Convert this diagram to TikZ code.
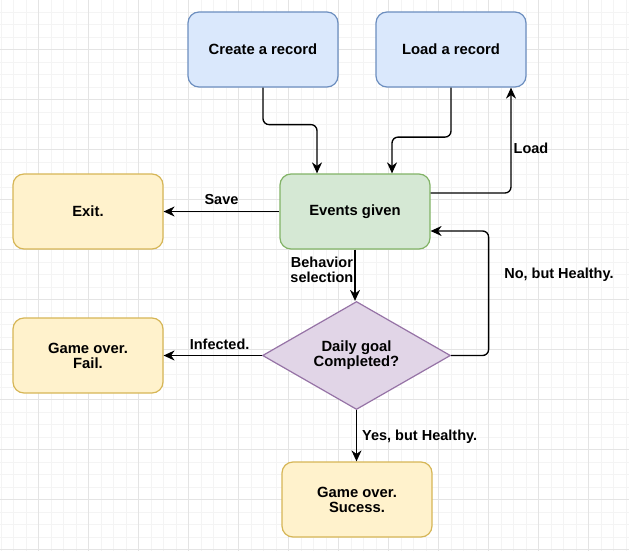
\documentclass[tikz,border=0pt]{standalone}
\usepackage{fontspec}
\setmainfont{Liberation Sans}
\usepackage{xcolor}
\usepackage{tikz}
\usetikzlibrary{calc,shapes.geometric,arrows.meta}
\definecolor{gridminor}{HTML}{F4F4F4}
\definecolor{gridmajor}{HTML}{E4E4E4}
\definecolor{bluefill}{HTML}{DAE8FC}
\definecolor{bluedraw}{HTML}{6C8EBF}
\definecolor{greenfill}{HTML}{D5E8D4}
\definecolor{greendraw}{HTML}{82B366}
\definecolor{yellowfill}{HTML}{FFF2CC}
\definecolor{yellowdraw}{HTML}{D6B656}
\definecolor{purplefill}{HTML}{E1D5E7}
\definecolor{purpledraw}{HTML}{9673A6}
\tikzset{
  box/.style={rectangle, rounded corners=11pt, line width=1.2pt,
    minimum width=150pt, minimum height=75pt, inner sep=0pt, align=center},
  startbox/.style={box, fill=bluefill, draw=bluedraw},
  eventbox/.style={box, fill=greenfill, draw=greendraw},
  endbox/.style={box, fill=yellowfill, draw=yellowdraw},
  decision/.style={diamond, aspect=1.74, fill=purplefill, draw=purpledraw,
    line width=1.2pt, minimum width=188pt, minimum height=108pt,
    inner sep=0pt, align=center},
  flow/.style={draw=black, line width=1.35pt, rounded corners=6pt,
    -{Stealth[length=11pt,width=10pt,inset=3.5pt]}},
  lab/.style={font=\bfseries\fontsize{14.5}{15}\selectfont, align=center},
  every node/.style={font=\bfseries\fontsize{14.8}{15}\selectfont, text=black}
}

\begin{document}
\begin{tikzpicture}[x=1pt,y=-1pt]
  \useasboundingbox[fill=white] (0,0) rectangle (629,551);

  % background grid
  \foreach \gx in {1,13.5,...,629} \draw[gridminor, line width=0.8pt] (\gx,0) -- (\gx,551);
  \foreach \gy in {12,24.5,...,551} \draw[gridminor, line width=0.8pt] (0,\gy) -- (629,\gy);
  \foreach \gx in {38.5,88.5,...,629} \draw[gridmajor, line width=0.8pt] (\gx,0) -- (\gx,551);
  \foreach \gy in {49.5,99.5,...,551} \draw[gridmajor, line width=0.8pt] (0,\gy) -- (629,\gy);

  \node[startbox] (create) at (263,49.5) {Create a record};
  \node[startbox] (load) at (451,49.5) {Load a record};
  \node[eventbox] (events) at (355,211.5) {Events given};
  \node[endbox] (exitnode) at (88,211.5) {Exit.};
  \node[decision] (goal) at (356.5,355.5) {Daily goal\\Completed?};
  \node[endbox] (fail) at (88,355.5) {Game over.\\Fail.};
  \node[endbox] (success) at (357,499.5) {Game over.\\Sucess.};

  \draw[flow] (create.south) -- ++(0,37) -| ($(events.north)+(-38,0)$);
  \draw[flow] (load.south) -- ++(0,49.5) -| ($(events.north)+(37,0)$);
  \draw[flow] ($(events.east)+(0,-18.5)$) -| ($(load.south)+(60,0)$)
    node[lab, pos=0.71, right, inner sep=2pt] {Load};
  \draw[flow] (events.west) -- (exitnode.east)
    node[lab, midway, above, inner sep=6.5pt] {Save};
  \draw[flow] (events.south) -- (events.south |- goal.north)
    node[lab, pos=0.4, left, inner sep=1pt] {Behavior\\selection};
  \draw[flow] (goal.west) -- (fail.east)
    node[lab, pos=0.43, above, inner sep=5.5pt] {Infected.};
  \draw[flow] (goal.south) -- (goal.south |- success.north)
    node[lab, pos=0.52, right, inner sep=5pt] {Yes, but Healthy.};
  \draw[flow] (goal.east) -- ++(37.5,0) |- ($(events.east)+(0,19.5)$)
    node[lab, pos=0.325, right, inner sep=15pt] {No, but Healthy.};
\end{tikzpicture}
\end{document}
